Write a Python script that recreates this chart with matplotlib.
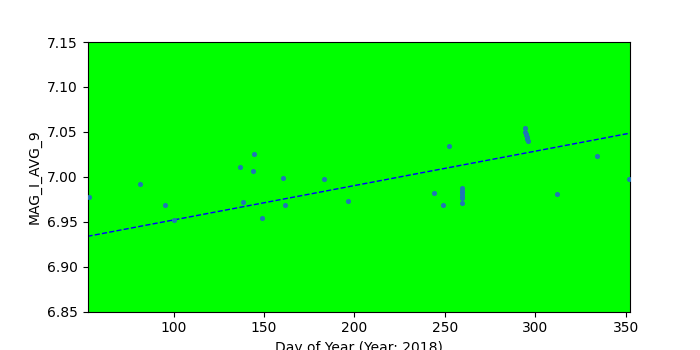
import numpy as np
from matplotlib import pyplot as plt


# day of year and magnitude readings
day = [53.5, 81.4, 95.2, 100.2, 136.7, 138.3, 143.9, 144.4, 148.8, 160.5, 161.6,
       183.1, 196.4, 244.0, 249.0, 252.3,
       259.6, 259.6, 259.6, 259.6, 259.6, 259.6,
       294.3, 294.3, 294.8, 295.0, 295.6, 295.6, 295.8,
       312.0, 334.1, 351.8]
mag = [6.977, 6.992, 6.969, 6.9515, 7.011, 6.972, 7.006, 7.025, 6.9545, 6.999, 6.968,
       6.997, 6.9735, 6.9824, 6.969, 7.0337,
       6.971, 6.976, 6.979, 6.982, 6.984, 6.987,
       7.0538, 7.050, 7.048, 7.046, 7.044, 7.042, 7.040,
       6.9813, 7.0236, 6.997]

# trend line (slope, intercept)
trend_coef = [0.000383, 6.9136]
x_range = (52.4, 352.3)

year = 2018
y_label = "MAG_I_AVG_9"


def plot_mag(x, y):
    x = np.array(x)
    y = np.array(y)
    fig = plt.figure(figsize=(7, 3.5), dpi=100)
    ax = fig.add_subplot(111)
    ax.set_facecolor('#00ff00')
    ax.scatter(x, y, s=7, color='tab:blue', zorder=3)

    xs = np.array(x_range)
    ax.plot(xs, np.polyval(trend_coef, xs), '--', color='blue', linewidth=1)

    ax.set_xlim(x_range)
    ax.set_ylim(6.85, 7.15)
    ax.set_yticks(np.arange(6.85, 7.151, 0.05))
    ax.set_xlabel("Day of Year (Year: " + str(year) + ")")
    ax.set_ylabel(y_label)
    fig.savefig("out.png")


if __name__ == "__main__":
    plot_mag(day, mag)
